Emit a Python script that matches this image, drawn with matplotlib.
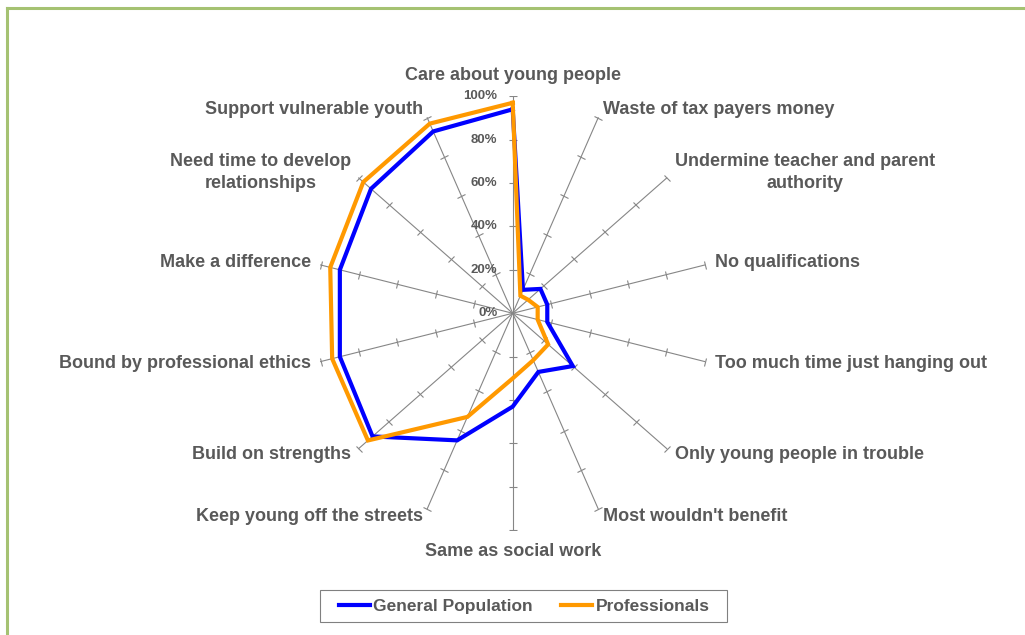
import numpy as np
import matplotlib.pyplot as plt
from matplotlib.lines import Line2D
from matplotlib.patches import Rectangle
from matplotlib.markers import MarkerStyle
from matplotlib.transforms import Affine2D

plt.rcParams['font.family'] = ['Liberation Sans', 'DejaVu Sans']

categories = ['Care about young people', 'Waste of tax payers money',
              'Undermine teacher and parent\nauthority', 'No qualifications',
              'Too much time just hanging out', 'Only young people in trouble',
              "Most wouldn't benefit", 'Same as social work',
              'Keep young off the streets', 'Build on strengths',
              'Bound by professional ethics', 'Make a difference',
              'Need time to develop\nrelationships', 'Support vulnerable youth']
general_population = [0.94, 0.12, 0.18, 0.18, 0.18, 0.39, 0.30,
                      0.43, 0.65, 0.91, 0.90, 0.90, 0.92, 0.93]
professionals = [0.97, 0.09, 0.10, 0.13, 0.13, 0.23, 0.24,
                 0.30, 0.53, 0.94, 0.94, 0.95, 0.97, 0.97]
levels = [0.0, 0.2, 0.4, 0.6, 0.8, 1.0]
level_labels = ['0%', '20%', '40%', '60%', '80%', '100%']

txt = '#595959'
grid = '#868686'

fig = plt.figure(figsize=(10.25, 6.35), dpi=100)
ax = fig.add_axes([0.308, 0.1649, 0.3844, 0.6835])
ax.set_xlim(-1, 1)
ax.set_ylim(-1, 1)
ax.axis('off')

# pixels per data unit (the chart is squeezed horizontally)
sx = fig.get_figwidth() * fig.dpi * 0.3844 / 2
sy = fig.get_figheight() * fig.dpi * 0.6835 / 2

n = len(categories)
theta = np.arange(n) * 2 * np.pi / n

# spokes with tick marks
for i, t in enumerate(theta):
    s, c = np.sin(t), np.cos(t)
    ax.plot([0, s], [0, c], color=grid, lw=0.8, zorder=1)
    phi = np.degrees(np.arctan2(sy * c, sx * s))
    m = MarkerStyle('|', transform=Affine2D().rotate_deg(phi))
    lv = np.array(levels[1:])
    ax.plot(lv * s, lv * c, ls='none', marker=m, ms=6, mew=0.8,
            color=grid, zorder=1)

    # category labels
    if i == 0 or i == n // 2:
        ha = 'center'
        off = (0, 15 if i == 0 else -15)
    else:
        ha = 'left' if s > 0 else 'right'
        off = (7.2 * s, 6.5 * c)
    ax.annotate(categories[i], xy=(s, c), xytext=off, textcoords='offset points',
                ha=ha, va='center', multialignment='center', fontsize=13,
                fontweight='bold', color=txt, linespacing=1.4,
                annotation_clip=False)

# value labels on the vertical axis
for lv, lab in zip(levels, level_labels):
    ax.annotate(lab, xy=(0, lv), xytext=(-11, 0), textcoords='offset points',
                ha='right', va='center', fontsize=9.5, fontweight='bold',
                color=txt, annotation_clip=False)

gp = general_population + general_population[:1]
pr = professionals + professionals[:1]
tt = np.append(theta, theta[0])
ax.plot(gp * np.sin(tt), gp * np.cos(tt), color='#0000ff', lw=3,
        label='General Population', zorder=3, clip_on=False,
        solid_joinstyle='miter')
ax.plot(pr * np.sin(tt), pr * np.cos(tt), color='#ff9900', lw=3,
        label='Professionals', zorder=4, clip_on=False,
        solid_joinstyle='miter')

leg = fig.legend(loc='center', bbox_to_anchor=(524 / 1025, 1 - 606 / 635),
                 ncol=2, frameon=False,
                 handlelength=1.8, handletextpad=0.2, columnspacing=1.6,
                 prop={'size': 12.5, 'weight': 'bold'})
for t in leg.get_texts():
    t.set_color(txt)

# legend box
fig.add_artist(Rectangle((320 / 1025, 1 - 622 / 635), 407 / 1025, 32 / 635,
                         transform=fig.transFigure, fill=False,
                         edgecolor='#808080', lw=0.8))

# green frame on the top and left
green = '#a5c272'
fig.add_artist(Line2D([7 / 1025, 1], [1 - 8 / 635, 1 - 8 / 635], color=green,
                      lw=2.2, transform=fig.transFigure))
fig.add_artist(Line2D([7 / 1025, 7 / 1025], [0, 1 - 8 / 635], color=green,
                      lw=2.2, transform=fig.transFigure))

fig.savefig('out.png', dpi=100)
